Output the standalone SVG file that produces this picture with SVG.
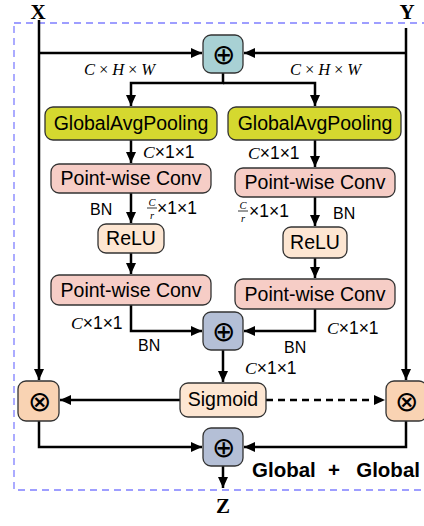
<svg xmlns="http://www.w3.org/2000/svg" width="424" height="526" viewBox="0 0 424 526">
<defs>
<marker id="ah" markerUnits="userSpaceOnUse" markerWidth="12" markerHeight="12" refX="11" refY="5" orient="auto">
<path d="M0,0 L11,5 L0,10 Z" fill="#000"/>
</marker>
<style>
.box{stroke:#333;stroke-width:1.3}
.gap{fill:#d5d82f}
.pw{fill:#f6cdc6}
.lt{fill:#fde6d2}
.ot{fill:#f9d3b3}
.op1{fill:#a8d1d4}
.op2{fill:#b4bfd6}
.t{font-family:"Liberation Sans",Arial,sans-serif;font-size:19.5px;text-anchor:middle;fill:#000}
.lab{font-family:"Liberation Sans",Arial,sans-serif;font-size:17.5px;fill:#000}
.bn{font-family:"Liberation Sans",Arial,sans-serif;font-size:16px;fill:#000}
.m{font-family:"Liberation Serif","Times New Roman",serif;font-style:italic}
.fr{font-family:"Liberation Serif","Times New Roman",serif;font-style:italic;font-size:10.5px;text-anchor:middle;fill:#000}
.sym{font-family:"DejaVu Sans",sans-serif;font-weight:200;font-size:28px;text-anchor:middle;fill:#000}
.io{font-family:"Liberation Serif","Times New Roman",serif;font-weight:bold;font-size:21px;text-anchor:middle;fill:#000}
.chw{font-family:"Liberation Serif","Times New Roman",serif;font-style:italic;font-size:16.5px;fill:#000}
.gg{font-family:"Liberation Sans",Arial,sans-serif;font-weight:bold;font-size:20.5px;fill:#000}
.c{fill:none;stroke:#000;stroke-width:2.5}
</style>
</defs>
<rect x="14" y="23" width="420" height="467" fill="none" stroke="#7f7fff" stroke-width="1.3" stroke-dasharray="7 5"/>
<text class="io" x="38" y="19">X</text>
<text class="io" x="407" y="19">Y</text>
<text class="io" x="223" y="513">Z</text>
<g id="connectors">
<path class="c" d="M39 20 V380" marker-end="url(#ah)"/>
<path class="c" d="M406 28 V380" marker-end="url(#ah)"/>
<path class="c" d="M39 53 H202" marker-end="url(#ah)"/>
<path class="c" d="M406 53 H244" marker-end="url(#ah)"/>
<path class="c" d="M223 73 V83 H131 V106" marker-end="url(#ah)"/>
<path class="c" d="M223 83 H315 V106" marker-end="url(#ah)"/>
<path class="c" d="M131 140 V163" marker-end="url(#ah)"/>
<path class="c" d="M315 140 V167" marker-end="url(#ah)"/>
<path class="c" d="M131 193 V223" marker-end="url(#ah)"/>
<path class="c" d="M315 197 V226" marker-end="url(#ah)"/>
<path class="c" d="M131 253 V274" marker-end="url(#ah)"/>
<path class="c" d="M315 258 V278" marker-end="url(#ah)"/>
<path class="c" d="M131 305 V331 H202" marker-end="url(#ah)"/>
<path class="c" d="M315 309 V331 H244" marker-end="url(#ah)"/>
<path class="c" d="M223 350 V382" marker-end="url(#ah)"/>
<path class="c" d="M180 400 H60" marker-end="url(#ah)"/>
<path class="c" d="M266 400 H385" stroke-dasharray="7 5" marker-end="url(#ah)"/>
<path class="c" d="M39 421 V447 H202" marker-end="url(#ah)"/>
<path class="c" d="M406 421 V447 H244" marker-end="url(#ah)"/>
<path class="c" d="M223 466 V488" marker-end="url(#ah)"/>
</g>
<g id="labels">
<text class="chw" x="84" y="75" textLength="71">C×H×W</text>
<text class="chw" x="290" y="75" textLength="71">C×H×W</text>
<text class="lab" x="143" y="158"><tspan class="m">C</tspan>×1×1</text>
<text class="lab" x="248" y="159"><tspan class="m">C</tspan>×1×1</text>
<text class="bn" x="90" y="215">BN</text>
<text class="fr" x="152" y="205.5">C</text>
<line x1="147" y1="208" x2="157" y2="208" stroke="#000" stroke-width="0.8"/>
<text class="fr" x="152" y="218.5">r</text>
<text class="lab" x="157" y="214">×1×1</text>
<text class="bn" x="333" y="219">BN</text>
<text class="fr" x="243" y="208.5">C</text>
<line x1="238" y1="211" x2="248" y2="211" stroke="#000" stroke-width="0.8"/>
<text class="fr" x="243" y="221.5">r</text>
<text class="lab" x="249" y="217">×1×1</text>
<text class="lab" x="71" y="329"><tspan class="m">C</tspan>×1×1</text>
<text class="bn" x="138" y="351">BN</text>
<text class="lab" x="327" y="334"><tspan class="m">C</tspan>×1×1</text>
<text class="bn" x="284" y="353">BN</text>
<text class="lab" x="245" y="374"><tspan class="m">C</tspan>×1×1</text>
<text class="gg" x="252" y="477">Global</text>
<text class="gg" x="334" y="477" text-anchor="middle">+</text>
<text class="gg" x="420" y="477" text-anchor="end">Global</text>
</g>
<g id="add_top"><rect class="box op1" x="203" y="35" width="40" height="38" rx="8"/><text class="sym" x="223" y="64">⊕</text></g>
<g id="gap_left"><rect class="box gap" x="45" y="107" width="172" height="33" rx="8"/><text class="t" x="131" y="130">GlobalAvgPooling</text></g>
<g id="gap_right"><rect class="box gap" x="228" y="107" width="173" height="33" rx="8"/><text class="t" x="315" y="130">GlobalAvgPooling</text></g>
<g id="pw1_left"><rect class="box pw" x="51" y="164" width="160" height="29" rx="8"/><text class="t" x="131" y="185">Point-wise Conv</text></g>
<g id="pw1_right"><rect class="box pw" x="235" y="168" width="160" height="29" rx="8"/><text class="t" x="315" y="189">Point-wise Conv</text></g>
<g id="relu_left"><rect class="box lt" x="98" y="224" width="66" height="29" rx="8"/><text class="t" x="131" y="245">ReLU</text></g>
<g id="relu_right"><rect class="box lt" x="283" y="227" width="64" height="31" rx="8"/><text class="t" x="315" y="249">ReLU</text></g>
<g id="pw2_left"><rect class="box pw" x="51" y="275" width="160" height="30" rx="8"/><text class="t" x="131" y="297">Point-wise Conv</text></g>
<g id="pw2_right"><rect class="box pw" x="235" y="279" width="160" height="30" rx="8"/><text class="t" x="315" y="301">Point-wise Conv</text></g>
<g id="add_mid"><rect class="box op2" x="203" y="312" width="40" height="38" rx="8"/><text class="sym" x="223" y="341">⊕</text></g>
<g id="sigmoid"><rect class="box lt" x="180" y="383" width="86" height="34" rx="8"/><text class="t" x="223" y="406">Sigmoid</text></g>
<g id="mul_left"><rect class="box ot" x="18" y="381" width="41" height="40" rx="8"/><text class="sym" x="39" y="411">⊗</text></g>
<g id="mul_right"><rect class="box ot" x="386" y="381" width="41" height="40" rx="8"/><text class="sym" x="406" y="411">⊗</text></g>
<g id="add_bottom"><rect class="box op2" x="203" y="428" width="40" height="38" rx="8"/><text class="sym" x="223" y="457">⊕</text></g>
</svg>
